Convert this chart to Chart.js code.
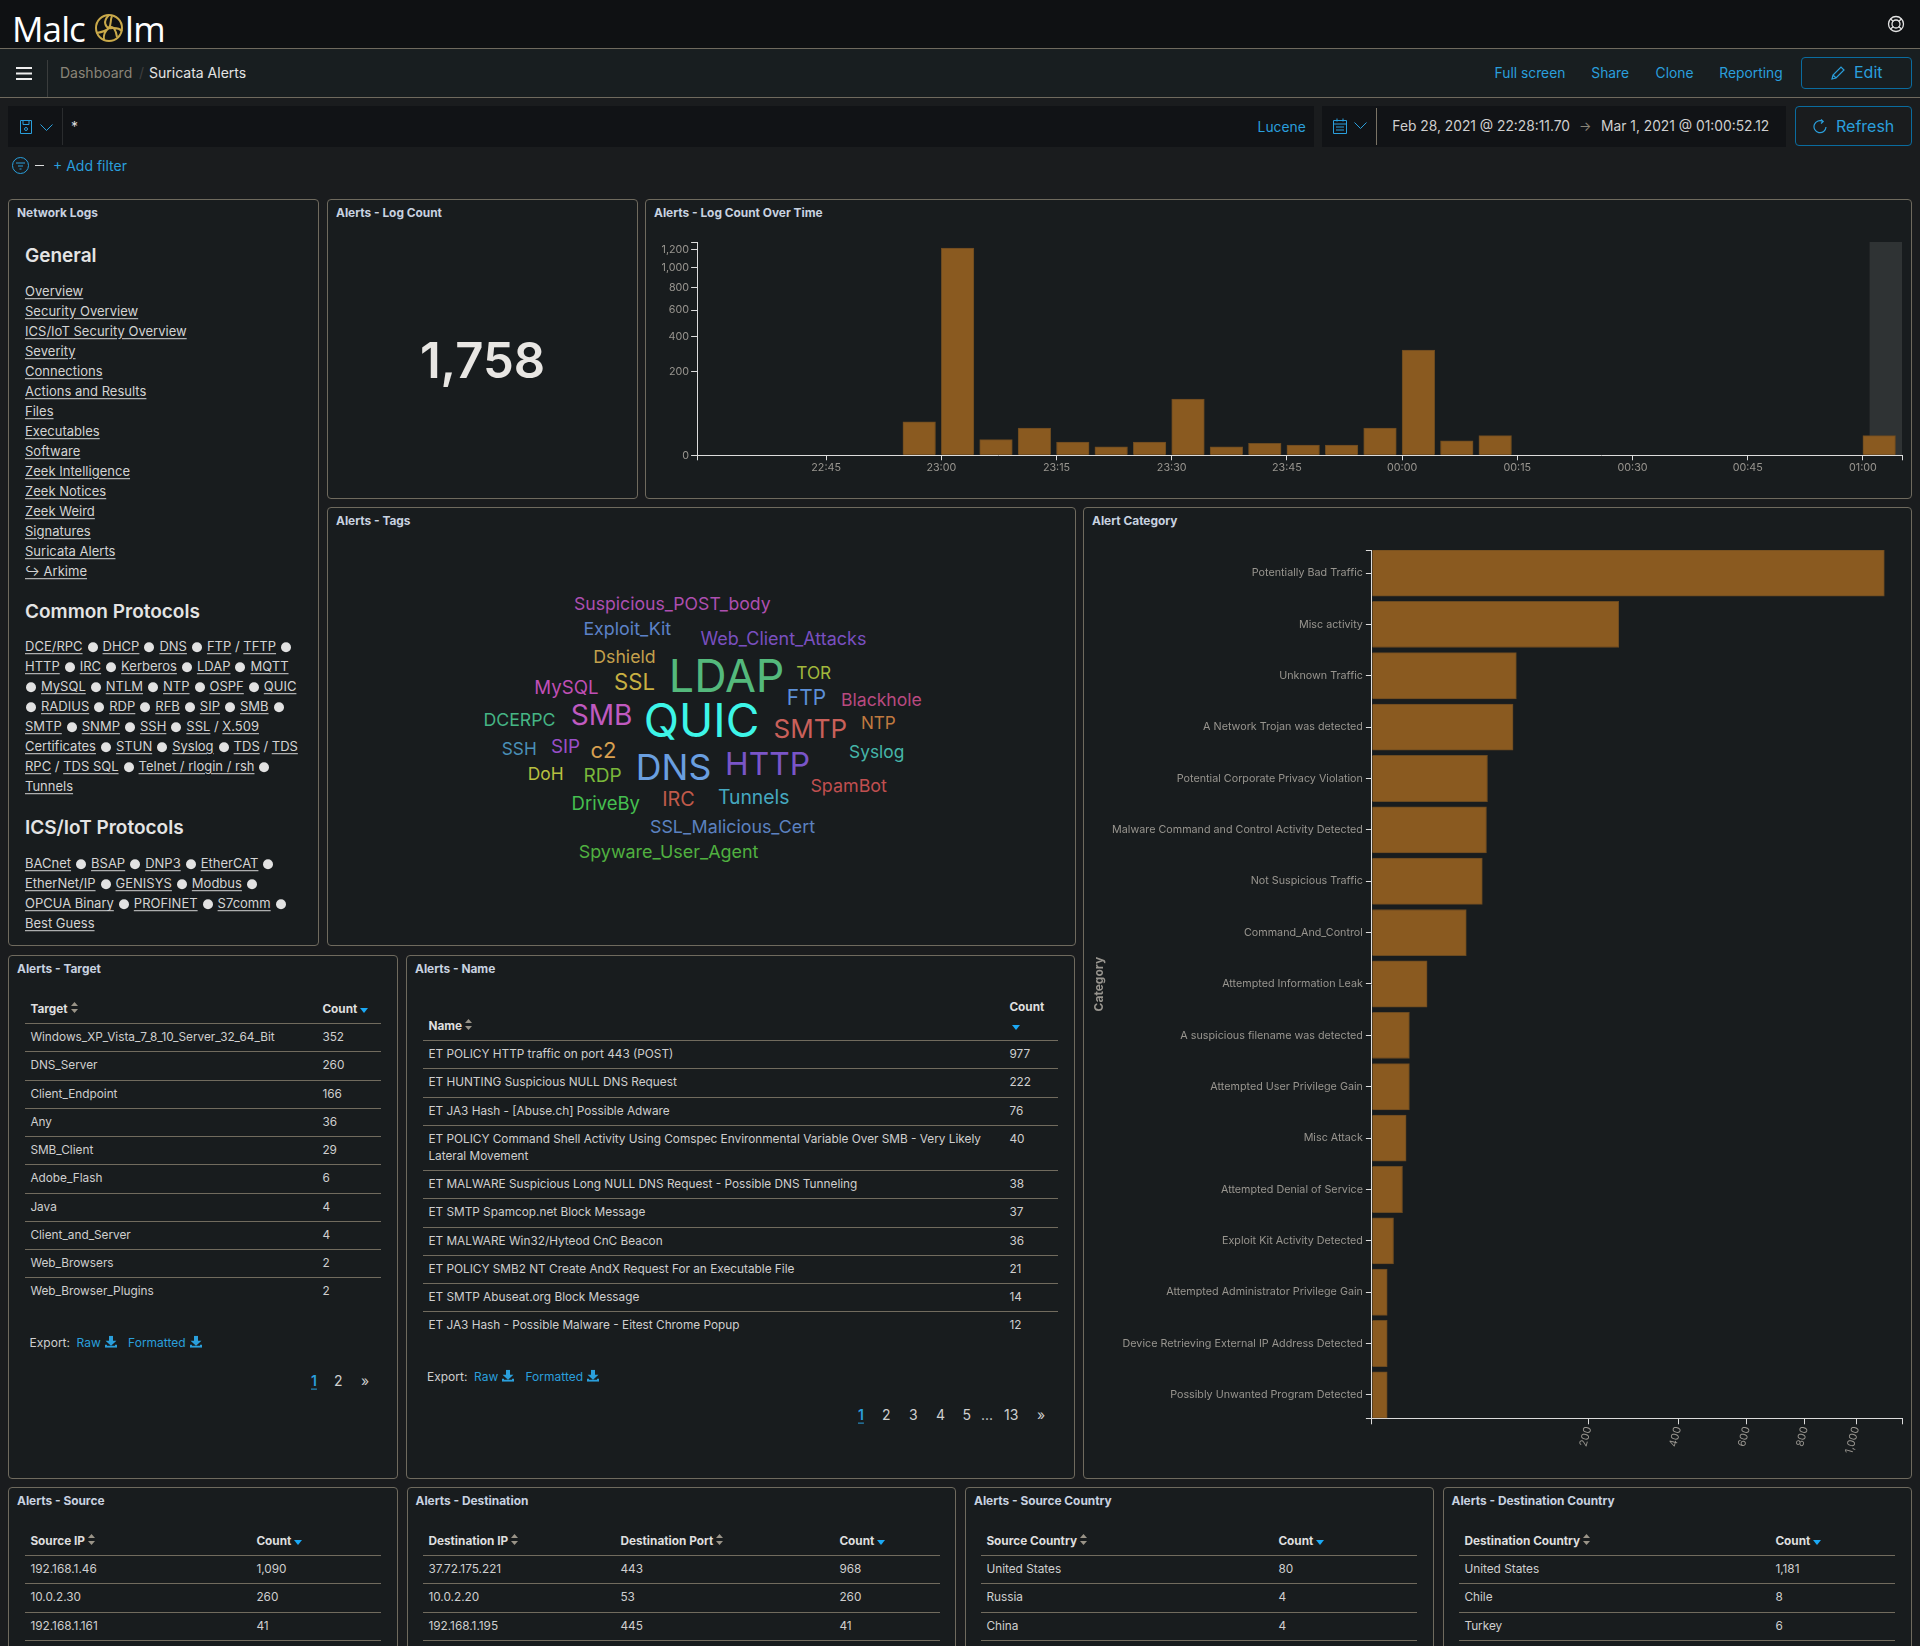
<!DOCTYPE html>
<html>
<head>
<meta charset="utf-8">
<title>Suricata Alerts</title>
<script src="https://cdn.jsdelivr.net/npm/chart.js@4"></script>
<style>
  body { margin: 0; width: 1920px; height: 1646px; overflow: hidden; position: relative; background: #1a1c1e;
         font-family: Inter, "Noto Sans", sans-serif; font-size: 12px; color: #d2d2d2; }
  .box { position: absolute; box-sizing: border-box; }
  .panel { background: #181c1e; border: 1px solid #6f6a5e; border-radius: 4px; }
  .t { position: absolute; white-space: nowrap; line-height: 1.2; transform: translateY(-50%); }
  .title { font-weight: 700; color: #c8d2e0; }
  .blue { color: #2a9fdc; }
  .link { font-size: 13px; color: #d4d4d4; }
  .link a { text-decoration: underline; text-underline-offset: 2px; }
  .h2 { font-size: 19px; font-weight: 600; color: #e4e4e4; }
  .dot { display: inline-block; width: 10px; height: 10px; border-radius: 50%; background: #e2e2e2; margin: 0 5px; vertical-align: -0.5px; }
  .t > .dot:first-child { margin-left: 1px; }
  table { position: absolute; border-collapse: separate; border-spacing: 0; table-layout: fixed; font-size: 11.8px; }
  th { font-weight: 700; text-align: left; color: #dedede; padding: 0 5.4px 4px; border-bottom: 1px solid #716b5e; vertical-align: bottom; line-height: 19px; box-sizing: border-box; }
  td { padding: 5px 5.4px 5.25px; line-height: 17px; vertical-align: top; color: #cfcfcf; border-bottom: 1px solid #716b5e; }
  tr:last-child td.open { border-bottom: none; }
  th svg { margin-left: 3px; }
  .chart { position: absolute; }
</style>
</head>
<body>
<script>
// chart data
const binLabels = ['22:55', '23:00', '23:05', '23:10', '23:15', '23:20', '23:25', '23:30', '23:35', '23:40', '23:45', '23:50', '23:55', '00:00', '00:05', '00:10', '01:00'];
const binCounts = [32, 1220, 7, 21, 5, 2, 5, 90, 2, 4, 3, 3, 21, 315, 6, 11, 11];
const timeTicks = ['22:45', '23:00', '23:15', '23:30', '23:45', '00:00', '00:15', '00:30', '00:45', '01:00'];
const countTicks = [0, 200, 400, 600, 800, 1000, 1200];

const categories = ['Potentially Bad Traffic', 'Misc activity', 'Unknown Traffic', 'A Network Trojan was detected', 'Potential Corporate Privacy Violation', 'Malware Command and Control Activity Detected', 'Not Suspicious Traffic', 'Command_And_Control', 'Attempted Information Leak', 'A suspicious filename was detected', 'Attempted User Privilege Gain', 'Misc Attack', 'Attempted Denial of Service', 'Exploit Kit Activity Detected', 'Attempted Administrator Privilege Gain', 'Device Retrieving External IP Address Detected', 'Possibly Unwanted Program Detected'];
const categoryCounts = [1120, 260, 89, 85, 57, 56, 52, 38, 13, 6, 6, 5, 4, 2, 1, 1, 1];
const categoryTicks = [200, 400, 600, 800, 1000];

const targetNames = ['Windows_XP_Vista_7_8_10_Server_32_64_Bit', 'DNS_Server', 'Client_Endpoint', 'Any', 'SMB_Client', 'Adobe_Flash', 'Java', 'Client_and_Server', 'Web_Browsers', 'Web_Browser_Plugins'];
const targetCounts = ['352', '260', '166', '36', '29', '6', '4', '4', '2', '2'];
const alertNames = ['ET POLICY HTTP traffic on port 443 (POST)', 'ET HUNTING Suspicious NULL DNS Request', 'ET JA3 Hash - [Abuse.ch] Possible Adware', 'ET POLICY Command Shell Activity Using Comspec Environmental Variable Over SMB - Very Likely Lateral Movement', 'ET MALWARE Suspicious Long NULL DNS Request - Possible DNS Tunneling', 'ET SMTP Spamcop.net Block Message', 'ET MALWARE Win32/Hyteod CnC Beacon', 'ET POLICY SMB2 NT Create AndX Request For an Executable File', 'ET SMTP Abuseat.org Block Message', 'ET JA3 Hash - Possible Malware - Eitest Chrome Popup'];
const alertCounts = ['977', '222', '76', '40', '38', '37', '36', '21', '14', '12'];
const sourceIps = ['192.168.1.46', '10.0.2.30', '192.168.1.161'];
const sourceCounts = ['1,090', '260', '41'];
const destIps = ['37.72.175.221', '10.0.2.20', '192.168.1.195'];
const destPorts = ['443', '53', '445'];
const destCounts = ['968', '260', '41'];
const sourceCountries = ['United States', 'Russia', 'China'];
const sourceCountryCounts = ['80', '4', '4'];
const destCountries = ['United States', 'Chile', 'Turkey'];
const destCountryCounts = ['1,181', '8', '6'];

const generalLinks = ['Overview', 'Security Overview', 'ICS/IoT Security Overview', 'Severity', 'Connections', 'Actions and Results', 'Files', 'Executables', 'Software', 'Zeek Intelligence', 'Zeek Notices', 'Zeek Weird', 'Signatures', 'Suricata Alerts', '↪ Arkime'];
const commonLines = ['[DCE/RPC]*[DHCP]*[DNS]*[FTP] / [TFTP]*', '[HTTP]*[IRC]*[Kerberos]*[LDAP]*[MQTT]', '*[MySQL]*[NTLM]*[NTP]*[OSPF]*[QUIC]', '*[RADIUS]*[RDP]*[RFB]*[SIP]*[SMB]*', '[SMTP]*[SNMP]*[SSH]*[SSL] / [X.509]', '[Certificates]*[STUN]*[Syslog]*[TDS] / [TDS]', '[RPC] / [TDS SQL]*[Telnet / rlogin / rsh]*', '[Tunnels]'];
const icsLines = ['[BACnet]*[BSAP]*[DNP3]*[EtherCAT]*', '[EtherNet/IP]*[GENISYS]*[Modbus]*', '[OPCUA Binary]*[PROFINET]*[S7comm]*', '[Best Guess]'];

// tag cloud words: text, left, right, centre y, colour
const tagWords = [
  ['Suspicious_POST_body', 574, 770.8, 604, '#ad4fb0'], ['Exploit_Kit', 583.4, 671.2, 629, '#5c82c8'],
  ['Web_Client_Attacks', 700.5, 866.6, 639, '#7a50c0'], ['Dshield', 593.3, 655.6, 657, '#c4a04c'],
  ['LDAP', 668.8, 784.5, 676.7, '#54b97c'], ['TOR', 796.3, 831.2, 672.7, '#a2b83c'],
  ['MySQL', 534.3, 598.5, 686.7, '#c04fb6'], ['SSL', 614, 655, 682, '#c8b042'],
  ['FTP', 786.8, 826, 698, '#5c8fd8'], ['Blackhole', 841, 921.8, 700, '#b84a80'],
  ['SMB', 570.7, 632.5, 715.7, '#c05ac0'], ['QUIC', 643.8, 759.4, 721, '#3df5e8'],
  ['DCERPC', 483.4, 555.6, 720, '#45b585'], ['SMTP', 773.6, 847.2, 729, '#c9605a'],
  ['NTP', 860.9, 895.8, 722.7, '#c07a40'], ['SSH', 501.8, 536.7, 749, '#4a90b8'],
  ['SIP', 550.9, 580.1, 747, '#9a4fc8'], ['c2', 590.5, 616.5, 750, '#d8a050'],
  ['DNS', 635.8, 711.3, 767, '#6a9fe0'], ['HTTP', 725, 810, 764, '#7a55c8'],
  ['Syslog', 849, 904.3, 751.7, '#45b5a8'], ['DoH', 527.7, 563.6, 773.7, '#b8c040'],
  ['RDP', 583.4, 621.6, 776, '#7ab83a'], ['SpamBot', 810.4, 886.9, 786.3, '#c04f50'],
  ['Tunnels', 717.9, 789.6, 797.7, '#45a8c0'], ['IRC', 662.2, 694.8, 800, '#c05a4a'],
  ['DriveBy', 571.6, 640, 803.3, '#45c050'], ['SSL_Malicious_Cert', 650, 815, 826.7, '#5c82c0'],
  ['Spyware_User_Agent', 578.7, 758.5, 852, '#50b040']
];

// helpers for the dashboard chrome
function box(x1, y1, x2, y2, cls, bg) {
  const d = document.createElement('div');
  d.className = 'box ' + (cls || '');
  d.style.cssText = `left:${x1}px;top:${y1}px;width:${x2 - x1}px;height:${y2 - y1}px;` + (bg ? `background:${bg};` : '');
  document.body.appendChild(d);
  return d;
}
function put(html, x, cy, cls, style) {
  const d = document.createElement('div');
  d.className = 't ' + (cls || '');
  d.style.cssText = `left:${x}px;top:${cy}px;` + (style || '');
  d.innerHTML = html;
  document.body.appendChild(d);
  return d;
}
function icon(svg, x, y) {
  const d = document.createElement('div');
  d.style.cssText = `position:absolute;left:${x}px;top:${y}px;line-height:0;`;
  d.innerHTML = svg;
  document.body.appendChild(d);
}
const sortIcon = '<svg width="7" height="11"><path d="M3.5 0L7 4H0zM3.5 11L0 7h7z" fill="#9a9488"/></svg>';
const downIcon = '<svg width="8" height="5"><path d="M0 0h8L4 5z" fill="#1ba9f5"/></svg>';
const saveIcon = '<svg width="12" height="12" style="vertical-align:-1px;margin-left:4px"><path d="M4 0h4v5h3.500L6 10 .5 5H4zM0 9h2v1h8V9h2v3H0z" fill="#2a9fdc"/></svg>';
const markup = s => s.replace(/\[(.+?)\]/g, '<a>$1</a>').replace(/\*/g, '<i class="dot"></i>');

// top bars
box(0, 0, 1920, 48, '', '#0f1113');
box(0, 48, 1920, 49, '', '#6f6a5e');
box(0, 49, 1920, 97, '', '#181e20');
box(0, 97, 1920, 98, '', '#6f6a5e');
put('Malc', 12, 28, '', 'font:400 35px "Open Sans";color:#fff;letter-spacing:-.9px');
put('lm', 125, 28, '', 'font:400 35px "Open Sans";color:#fff;letter-spacing:-.6px');
icon('<svg width="30" height="30" viewBox="0 0 30 30" fill="none" stroke="#c9a94a" stroke-width="2"><circle cx="15" cy="15" r="13"/><path d="M15 2C8 9 12 14 15 15s8-2 13 3M2.5 20c7-1 10-2 12.500-5s1-8 3-12M10 27c-1-6 1-9 5-12s7 2 8 9"/></svg>', 94, 13);
icon('<svg width="18" height="18" viewBox="0 0 18 18" fill="none" stroke="#e4e4e4" stroke-width="1.300"><circle cx="9" cy="9" r="7.500"/><circle cx="9" cy="9" r="4"/><path d="M3.500 4l3 2.500M14.500 4l-3 2.500M3.500 14l3-2.500M14.500 14l-3-2.500"/></svg>', 1887, 15);
icon('<svg width="16" height="13"><path d="M0 0h16v2H0zM0 5.500h16v2H0zM0 11h16v2H0z" fill="#eee"/></svg>', 16, 67);
box(47, 60, 48, 97, '', '#3a3d3d');
put('Dashboard', 60, 73, '', 'font-size:14px;color:#8a8578');
put('/', 139, 73, '', 'font-size:14px;color:#3f3f3f');
put('Suricata Alerts', 149, 73, '', 'font-size:14px;color:#e4e4e4');
put('Full screen', 1494.6, 73, 'blue', 'font-size:13.8px');
put('Share', 1591.3, 73, 'blue', 'font-size:13.8px');
put('Clone', 1655.6, 73, 'blue', 'font-size:13.8px');
put('Reporting', 1719.3, 73, 'blue', 'font-size:13.8px');
box(1801, 57, 1912, 89, '', '').style.cssText += 'border:1px solid #0a6c9f;border-radius:4px;';
icon('<svg width="16" height="16" viewBox="0 0 16 16" fill="none" stroke="#2a9fdc" stroke-width="1.200"><path d="M2 14l1-4 8-8 3 3-8 8zM3 10l3 3"/></svg>', 1830, 65);
put('Edit', 1854, 73, 'blue', 'font-size:16px');

// query bar
box(8, 106, 1314, 147, '', '#111316');
icon('<svg width="12" height="14" viewBox="0 0 12 14" fill="none" stroke="#2a9fdc"><path d="M.5 .5h11v13H.5zM3 .5v4h6v-4"/><circle cx="6" cy="9" r="1.500"/></svg>', 20, 120);
icon('<svg width="13" height="7" fill="none" stroke="#2a9fdc"><path d="M.5 .5L6.500 6.500 12.500 .5"/></svg>', 40, 124);
box(62, 108, 63, 145, '', '#2a2c2e');
put('*', 71, 127, '', 'font-size:14px;color:#ddd');
put('Lucene', 1257.6, 126.7, 'blue', 'font-size:13.8px');
box(1322, 106, 1785.5, 147, '', '#111316');
icon('<svg width="14" height="16" viewBox="0 0 14 16" fill="none" stroke="#2a9fdc"><path d="M.5 2.500h13v13H.5zM.5 6h13M4 .5v3M10 .5v3M3 9h8M3 12h8"/></svg>', 1333, 118);
icon('<svg width="13" height="7" fill="none" stroke="#2a9fdc"><path d="M.5 .5L6.500 6.500 12.500 .5"/></svg>', 1354, 122);
box(1376, 108, 1377, 145, '', '#7a7365');
put('Feb 28, 2021 @ 22:28:11.70', 1392.3, 126, '', 'font-size:13.8px;color:#cfcfcf');
put('→', 1579, 127, '', 'font-size:13px;color:#8a8578');
put('Mar 1, 2021 @ 01:00:52.12', 1601, 126, '', 'font-size:13.8px;color:#cfcfcf');
box(1795, 106, 1912, 146, '', '').style.cssText += 'border:1px solid #0a6c9f;border-radius:4px;';
icon('<svg width="14" height="15" viewBox="0 0 14 15" fill="none" stroke="#2a9fdc" stroke-width="1.200"><path d="M10 2.500A6 6 0 1 0 13 8M8 .5l2.200 2-2.200 2"/></svg>', 1813, 119);
put('Refresh', 1836, 126.7, 'blue', 'font-size:16px');

// filter row
icon('<svg width="17" height="17" viewBox="0 0 17 17" fill="none" stroke="#2a9fdc"><circle cx="8.500" cy="8.500" r="8"/><path d="M4 6h9M6 9h5M7.500 12h2"/></svg>', 12, 157);
box(35, 165, 44, 166, '', '#ddd');
put('+ Add filter', 53, 165.7, 'blue', 'font-size:14px');

// panels
const panels = [
  [8, 199, 318.5, 946, 'Network Logs'], [327, 199, 637.5, 498.500, 'Alerts - Log Count'],
  [645, 199, 1912, 498.500, 'Alerts - Log Count Over Time'], [327, 507, 1076, 946, 'Alerts - Tags'],
  [1083, 507, 1912, 1478.500, 'Alert Category'], [8, 955, 397.5, 1478.500, 'Alerts - Target'],
  [406, 955, 1075, 1478.500, 'Alerts - Name'], [8, 1487, 397.5, 1700, 'Alerts - Source'],
  [406.5, 1487, 955.5, 1700, 'Alerts - Destination'], [965, 1487, 1433.5, 1700, 'Alerts - Source Country'],
  [1442.5, 1487, 1912, 1700, 'Alerts - Destination Country']
];
panels.forEach(p => {
  box(p[0], p[1], p[2], p[3], 'panel');
  put(p[4], p[0] + 9, p[1] + 13.7, 'title', 'font-size:11.9px');
});

// network logs links
put('General', 25, 255.5, 'h2');
generalLinks.forEach((s, i) => put(`<a>${s}</a>`, 25, 291.7 + i * 20, 'link', 'letter-spacing:.02px'));
put('Common Protocols', 25, 612.3, 'h2');
commonLines.forEach((s, i) => put(markup(s), 25, 647.3 + i * 20, 'link'));
put('ICS/IoT Protocols', 25, 828.3, 'h2');
icsLines.forEach((s, i) => put(markup(s), 25, 864.3 + i * 20, 'link'));

// big metric
put('1,758', 482.5, 361, '', 'font-size:49px;font-weight:600;color:#e8e6e3;transform:translate(-50%,-50%)');

// tag cloud, font size comes from the width of the word in the picture
const measure = document.createElement('canvas').getContext('2d');
measure.font = '100px Inter';
tagWords.forEach(w => {
  const size = (w[2] - w[1]) / measure.measureText(w[0]).width * 100;
  put(w[0], w[1], w[3], '', `font-size:${size}px;color:${w[4]}`);
});

// tables
function addTable(x1, x2, lineY, cols, headers, rows, openLast, twoLine) {
  const t = document.createElement('table');
  const hh = twoLine ? 45 : 27;
  t.style.cssText = `left:${x1}px;top:${lineY - hh + 1}px;width:${x2 - x1}px;`;
  let h = '<colgroup>' + cols.map(c => `<col style="width:${c}px">`).join('') + '</colgroup><tr>';
  headers.forEach((s, i) => {
    const last = i === headers.length - 1;
    const brk = twoLine && last ? '<br>' : '';
    h += `<th style="height:${hh}px">${s}${brk}${last ? downIcon : sortIcon}</th>`;
  });
  h += '</tr>';
  rows.forEach((r, i) => {
    const cls = openLast && i === rows.length - 1 ? ' class="open"' : '';
    h += '<tr>' + r.map(c => `<td${cls}>${c}</td>`).join('') + '</tr>';
  });
  t.innerHTML = h;
  document.body.appendChild(t);
}
const zip = (...a) => a[0].map((_, i) => a.map(c => c[i]));
addTable(25, 381, 1023, [292, 64], ['Target', 'Count'], zip(targetNames, targetCounts), true);
addTable(423, 1058, 1040, [581, 54], ['Name', 'Count'], zip(alertNames, alertCounts), true, true);
addTable(25, 381, 1555, [226, 130], ['Source IP', 'Count'], zip(sourceIps, sourceCounts));
addTable(423, 939.5, 1555, [192, 219, 105.500], ['Destination IP', 'Destination Port', 'Count'], zip(destIps, destPorts, destCounts));
addTable(981, 1417, 1555, [292, 144], ['Source Country', 'Count'], zip(sourceCountries, sourceCountryCounts));
addTable(1459, 1895, 1555, [311, 125], ['Destination Country', 'Count'], zip(destCountries, destCountryCounts));

// export links and pagers
function addExport(x, cy) {
  put('Export:', x, cy, '', 'color:#cfcfcf');
  put('Raw' + saveIcon, x + 47, cy, 'blue');
  put('Formatted' + saveIcon, x + 98.500, cy, 'blue');
}
function addPager(labels, xs, cy) {
  labels.forEach((s, i) => {
    const st = 'font-size:14px;' + (i === 0 ? 'color:#2a9fdc;text-decoration:underline;text-underline-offset:3px;font-weight:600' : 'color:#cfcfcf');
    put(s, xs[i], cy, '', st);
  });
}
addExport(29.6, 1343.3);
addExport(427, 1377.3);
addPager(['1', '2', '»'], [311, 334, 361], 1381);
addPager(['1', '2', '3', '4', '5', '...', '13', '»'], [858, 882, 909, 936, 962.5, 981, 1004, 1037], 1414.7);

// sqrt axis, both charts use it
class SqrtScale extends Chart.LinearScale {
  getPixelForValue(value) {
    return this.getPixelForDecimal(Math.sqrt(value) / Math.sqrt(this.max));
  }
  getValueForPixel(pixel) {
    const d = this.getDecimalForPixel(pixel) * Math.sqrt(this.max);
    return d * d;
  }
}
SqrtScale.id = 'sqrt';
SqrtScale.defaults = Chart.LinearScale.defaults;
Chart.register(SqrtScale);

Chart.defaults.font.family = 'Inter';
Chart.defaults.font.size = 10.75;
Chart.defaults.color = '#98958f';
Chart.defaults.animation = false;

const axisColor = '#dcdcdc';
const barFill = '#8a5a20';
const barEdge = '#6b4a20';

function minutes(label) {
  const [h, m] = label.split(':').map(Number);
  return (h > 12 ? h - 24 : h) * 60 + m;
}

function addCanvas(x, y, w, h) {
  const d = document.createElement('div');
  d.className = 'chart';
  d.style.cssText = `left:${x}px;top:${y}px;width:${w}px;height:${h}px;`;
  const c = document.createElement('canvas');
  d.appendChild(c);
  document.body.appendChild(d);
  return c.getContext('2d');
}

// pins an axis to its limits and to the ticks we want, nice rounding would move them
function fixTicks(scale, min, max, values) {
  scale.min = min;
  scale.max = max;
  scale.ticks = values.map(v => ({ value: v }));
}

// time histogram
const rangeStart = -91.8;
const rangeEnd = 60.87;
const axisEnd = 65.09;
const countMax = 1294;
const binOffset = 2.12; // bars start at their bin, so they are centred past the tick

const outOfRangeBand = {
  id: 'outOfRangeBand',
  beforeDatasetsDraw(chart) {
    const a = chart.chartArea;
    const x = chart.scales.x.getPixelForValue(rangeEnd);
    chart.ctx.fillStyle = 'rgba(255,255,255,0.1)';
    chart.ctx.fillRect(x, a.top, a.right - x, a.bottom - a.top);
  }
};

new Chart(addCanvas(646, 200, 1266, 298), {
  type: 'bar',
  data: {
    datasets: [{
      data: binLabels.map((l, i) => ({ x: minutes(l), y: binCounts[i] })),
      xAxisID: 'xBars',
      yAxisID: 'y',
      backgroundColor: barFill,
      borderColor: barEdge,
      borderWidth: 1,
      barThickness: 32.6
    }]
  },
  plugins: [outOfRangeBand],
  options: {
    responsive: true,
    maintainAspectRatio: false,
    layout: { padding: { top: 42, right: 10, left: 0, bottom: 0 } },
    plugins: { legend: { display: false }, tooltip: { enabled: false } },
    scales: {
      x: {
        type: 'linear',
        offset: false,
        min: rangeStart,
        max: axisEnd,
        border: { color: axisColor },
        grid: { offset: false, drawOnChartArea: false, color: axisColor, tickLength: 5 },
        ticks: {
          autoSkip: false, maxRotation: 0, padding: 1,
          callback: v => { const i = timeTicks.findIndex(l => minutes(l) === v); return i < 0 ? '' : timeTicks[i]; }
        },
        afterBuildTicks: s => fixTicks(s, rangeStart, axisEnd, [rangeStart, ...timeTicks.map(minutes), axisEnd]),
        afterFit: s => { s.height = 42.7; }
      },
      xBars: { type: 'linear', axis: 'x', offset: false, display: false, min: rangeStart - binOffset, max: axisEnd - binOffset },
      y: {
        type: 'sqrt',
        min: 0,
        max: countMax,
        border: { color: axisColor },
        grid: { drawOnChartArea: false, color: axisColor, tickLength: 6 },
        ticks: {
          autoSkip: false, padding: 2,
          callback: v => (countTicks.includes(v) ? v.toLocaleString('en-US') : '')
        },
        afterBuildTicks: s => fixTicks(s, 0, countMax, [...countTicks, countMax]),
        afterFit: s => { s.width = 51.1; }
      }
    }
  }
});

// alert category bars
const categoryMax = 1201;

// rotated labels reserve about 14px right of the axis, the canvas is wider to allow for it
new Chart(addCanvas(1084, 508, 832, 970), {
  type: 'bar',
  data: {
    datasets: [{
      data: categories.map((c, i) => ({ x: categoryCounts[i], y: i })),
      backgroundColor: barFill,
      borderColor: barEdge,
      borderWidth: 1,
      barThickness: 46.3
    }]
  },
  options: {
    indexAxis: 'y',
    responsive: true,
    maintainAspectRatio: false,
    layout: { padding: { top: 42, right: 0, left: 0, bottom: 0 } },
    plugins: { legend: { display: false }, tooltip: { enabled: false } },
    scales: {
      x: {
        type: 'sqrt',
        min: 0,
        max: categoryMax,
        border: { color: axisColor },
        grid: { drawOnChartArea: false, color: axisColor, tickLength: 6 },
        ticks: {
          autoSkip: false, minRotation: 75, maxRotation: 75, padding: 1,
          callback: v => (categoryTicks.includes(v) ? v.toLocaleString('en-US') : '')
        },
        afterBuildTicks: s => fixTicks(s, 0, categoryMax, [0, ...categoryTicks, categoryMax]),
        afterFit: s => { s.height = 59.7; }
      },
      y: {
        type: 'linear',
        offset: false,
        reverse: true,
        min: -0.448,
        max: 16.454,
        title: { display: true, text: 'Category', color: '#98958f', font: { weight: 'bold', size: 12 }, padding: { top: 8 } },
        border: { color: axisColor },
        grid: { offset: false, drawOnChartArea: false, color: axisColor, tickLength: 6 },
        ticks: {
          autoSkip: false, padding: 3,
          callback: v => (Number.isInteger(v) ? categories[v] : '')
        },
        afterBuildTicks: s => fixTicks(s, -0.448, 16.454, [-0.448, ...categories.map((c, i) => i), 16.454]),
        afterFit: s => { s.width = 287.9; }
      }
    }
  }
});
</script>
</body>
</html>
